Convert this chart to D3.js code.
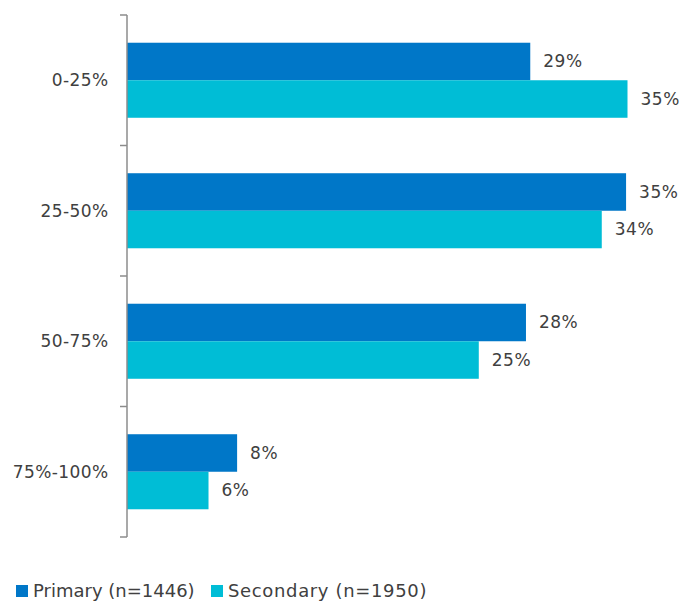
<!DOCTYPE html>
<html>
<head>
<meta charset="utf-8">
<script src="https://cdn.jsdelivr.net/npm/d3@7"></script>
<style>
  html, body { margin: 0; padding: 0; background: #fff; }
  svg { display: block; }
  text { font-family: "Century Gothic", "DejaVu Sans", sans-serif; fill: #404040; }
</style>
</head>
<body>
<svg id="chart" width="680" height="601"></svg>
<script>
const categories = ["0-25%", "25-50%", "50-75%", "75%-100%"];
const seriesNames = ["Primary (n=1446)", "Secondary (n=1950)"];
const primaryValues = [28.2, 34.9, 27.9, 7.7];
const secondaryValues = [35.0, 33.2, 24.6, 5.7];
const primaryLabels = ["29%", "35%", "28%", "8%"];
const secondaryLabels = ["35%", "34%", "25%", "6%"];
const colors = ["#0077C8", "#00BDD6"];

(function () {
const svg = d3.select("#chart");
const axisX = 127, plotTop = 15, plotBottom = 537;

const x = d3.scaleLinear().domain([0, 35]).range([axisX, 627.5]);
const y0 = d3.scaleBand().domain(categories).range([plotTop, plotBottom])
  .paddingInner(0.425).paddingOuter(0.2125);
const y1 = d3.scaleBand().domain(seriesNames).range([0, y0.bandwidth()]);

const data = categories.map((c, i) => ({
  cat: c,
  series: [
    { name: seriesNames[0], value: primaryValues[i], label: primaryLabels[i], color: colors[0] },
    { name: seriesNames[1], value: secondaryValues[i], label: secondaryLabels[i], color: colors[1] }
  ]
}));

const groups = svg.selectAll("g.grp").data(data).enter().append("g")
  .attr("class", "grp")
  .attr("transform", d => `translate(0,${y0(d.cat)})`);

groups.selectAll("rect").data(d => d.series).enter().append("rect")
  .attr("x", x(0))
  .attr("y", d => y1(d.name))
  .attr("width", d => x(d.value) - x(0))
  .attr("height", y1.bandwidth())
  .attr("fill", d => d.color);

groups.selectAll("text.val").data(d => d.series).enter().append("text")
  .attr("class", "val")
  .attr("x", d => x(d.value) + 13)
  .attr("y", d => y1(d.name) + y1.bandwidth() / 2)
  .attr("dy", "0.35em")
  .attr("font-size", 17)
  .attr("letter-spacing", 0.5)
  .text(d => d.label);

const axisG = svg.append("g");
axisG.append("line")
  .attr("x1", axisX).attr("x2", axisX).attr("y1", plotTop).attr("y2", plotBottom)
  .attr("stroke", "#8c8c8c").attr("stroke-width", 1.5);
const tickPos = d3.range(categories.length + 1).map(i => plotTop + i * y0.step());
axisG.selectAll("line.tick").data(tickPos).enter().append("line")
  .attr("x1", axisX - 7).attr("x2", axisX).attr("y1", d => d).attr("y2", d => d)
  .attr("stroke", "#8c8c8c").attr("stroke-width", 1.5);
axisG.selectAll("text.cat").data(categories).enter().append("text")
  .attr("class", "cat")
  .attr("x", 108.5)
  .attr("y", d => y0(d) + y0.bandwidth() / 2)
  .attr("dy", "0.35em")
  .attr("text-anchor", "end")
  .attr("font-size", 17)
  .attr("letter-spacing", 0.4)
  .text(d => d);

const legendX = [16, 211];
const legendSpacing = [0, 0.65];
const lg = svg.selectAll("g.leg").data(seriesNames).enter().append("g")
  .attr("class", "leg")
  .attr("transform", (d, i) => `translate(${legendX[i]},585)`);
lg.append("rect").attr("width", 12).attr("height", 12).attr("fill", (d, i) => colors[i]);
lg.append("text").attr("x", 17).attr("y", 12)
  .attr("font-size", 18)
  .attr("letter-spacing", (d, i) => legendSpacing[i])
  .text(d => d);
})();
</script>
</body>
</html>
